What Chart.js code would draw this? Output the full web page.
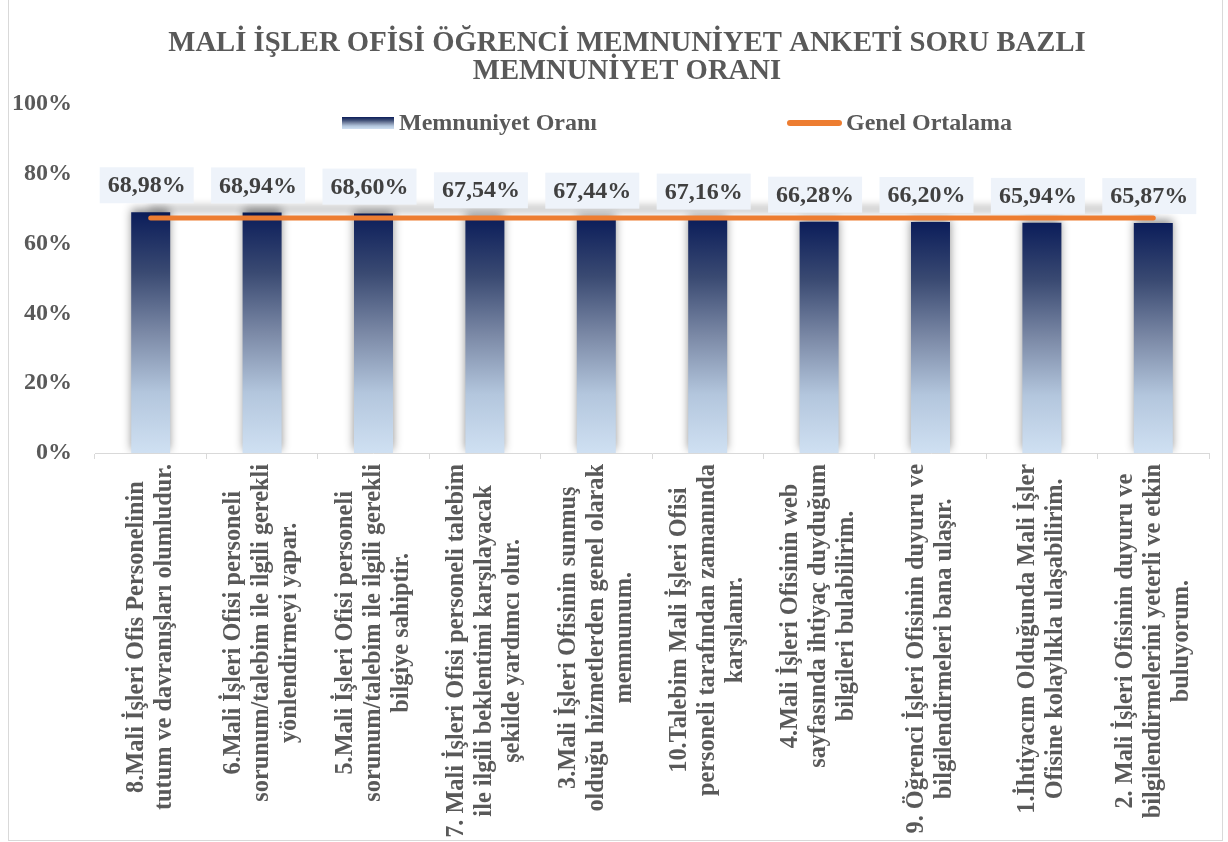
<!DOCTYPE html>
<html>
<head>
<meta charset="utf-8">
<script src="https://cdn.jsdelivr.net/npm/chart.js@4.4.1/dist/chart.umd.min.js"></script>
<style>
  html, body { margin: 0; padding: 0; background: #ffffff; overflow: hidden; }
  #wrap { position: absolute; left: 8px; top: -1px; width: 1213px; height: 840px; border: 1px solid #d9d9d9; background: #fff; }
  canvas { display: block; }
</style>
</head>
<body>
<div id="wrap"><canvas id="c" width="1213" height="840"></canvas></div>
<script>
// ---- DATA ----
const categories = [
  ["8.Mali İşleri Ofis Personelinin", "tutum ve davranışları olumludur."],
  ["6.Mali İşleri Ofisi personeli", "sorunum/talebim ile ilgili gerekli", "yönlendirmeyi yapar."],
  ["5.Mali İşleri Ofisi personeli", "sorunum/talebim ile ilgili gerekli", "bilgiye sahiptir."],
  ["7. Mali İşleri Ofisi personeli talebim", "ile ilgili beklentimi karşılayacak", "şekilde yardımcı olur."],
  ["3.Mali İşleri Ofisinin sunmuş", "olduğu hizmetlerden genel olarak", "memnunum."],
  ["10.Talebim Mali İşleri Ofisi", "personeli tarafından zamanında", "karşılanır."],
  ["4.Mali İşleri Ofisinin web", "sayfasında ihtiyaç duyduğum", "bilgileri bulabilirim."],
  ["9. Öğrenci İşleri Ofisinin duyuru ve", "bilgilendirmeleri bana ulaşır."],
  ["1.İhtiyacım Olduğunda Mali İşler", "Ofisine kolaylıkla ulaşabilirim."],
  ["2. Mali İşleri Ofisinin duyuru ve", "bilgilendirmelerini yeterli ve etkin", "buluyorum."]
];
const memnuniyetOrani = [68.98, 68.94, 68.60, 67.54, 67.44, 67.16, 66.28, 66.20, 65.94, 65.87];
const genelOrtalama = [67.3, 67.3, 67.3, 67.3, 67.3, 67.3, 67.3, 67.3, 67.3, 67.3];
const yTicks = [0, 20, 40, 60, 80, 100];
const titleLines = ["MALİ İŞLER OFİSİ ÖĞRENCİ MEMNUNİYET ANKETİ SORU BAZLI", "MEMNUNİYET ORANI"];
const seriesNames = ["Memnuniyet Oranı", "Genel Ortalama"];

const SERIF = "'Liberation Serif', 'Times New Roman', serif";
const ORANGE = '#ED7D31';

function barGradient(ctx, yTop, yBot) {
  const g = ctx.createLinearGradient(0, yTop, 0, yBot);
  g.addColorStop(0, '#0b1d5a');
  g.addColorStop(0.25, '#3a4a72');
  g.addColorStop(0.5, '#7b89a6');
  g.addColorStop(0.75, '#b3c6dd');
  g.addColorStop(1, '#cfe0f2');
  return g;
}

const shadowPlugin = {
  id: 'shadows',
  beforeDatasetDraw(chart, args) {
    const ctx = chart.ctx;
    ctx.save();
    if (args.index === 0) {
      ctx.shadowColor = 'rgba(0,0,0,0.45)';
      ctx.shadowBlur = 9;
      ctx.shadowOffsetY = -3;
    } else {
      ctx.shadowColor = 'rgba(0,0,0,0.35)';
      ctx.shadowBlur = 9;
      ctx.shadowOffsetY = -9;
    }
  },
  afterDatasetDraw(chart) { chart.ctx.restore(); }
};

const labelsPlugin = {
  id: 'customLabels',
  afterDraw(chart) {
    const ctx = chart.ctx;
    const xs = chart.scales.x;
    const ca = chart.chartArea;

    // title
    ctx.save();
    ctx.font = 'bold 28.7px ' + SERIF;
    ctx.fillStyle = '#595959';
    ctx.textAlign = 'center';
    ctx.textBaseline = 'middle';
    const tcx = (ca.left + ca.right) / 2 - 25;
    titleLines.forEach((t, i) => ctx.fillText(t, tcx, ca.top - 60 + i * 28));
    ctx.restore();

    // data labels
    const meta = chart.getDatasetMeta(0);
    ctx.save();
    ctx.font = 'bold 24px ' + SERIF;
    ctx.textAlign = 'center';
    ctx.textBaseline = 'middle';
    meta.data.forEach((el, i) => {
      const txt = memnuniyetOrani[i].toFixed(2).replace('.', ',') + '%';
      const w = ctx.measureText(txt).width + 16;
      const h = 36;
      const cx = el.x - 4;
      const bottom = el.y - 9;
      ctx.fillStyle = '#eef3fa';
      ctx.fillRect(cx - w / 2, bottom - h, w, h);
      ctx.fillStyle = '#404040';
      ctx.fillText(txt, cx, bottom - h / 2 + 1);
    });
    ctx.restore();

    // x category labels (rotated, lines centered)
    ctx.save();
    ctx.font = 'bold 24.3px ' + SERIF;
    ctx.fillStyle = '#595959';
    ctx.textAlign = 'center';
    ctx.textBaseline = 'middle';
    const lineH = 28;
    chart.data.labels.forEach((lines, i) => {
      const x = xs.getPixelForTick(i);
      const maxW = Math.max(...lines.map(l => ctx.measureText(l).width));
      const yc = xs.top + 11 + maxW / 2;
      ctx.save();
      ctx.translate(x, yc);
      ctx.rotate(-Math.PI / 2);
      lines.forEach((l, j) => {
        ctx.fillText(l, 0, (j - (lines.length - 1) / 2) * lineH);
      });
      ctx.restore();
    });
    ctx.restore();

    // legend
    ctx.save();
    const ly = ca.top + 19;
    ctx.font = 'bold 24px ' + SERIF;
    ctx.textBaseline = 'middle';
    ctx.textAlign = 'left';
    ctx.fillStyle = barGradient(ctx, ly - 6, ly + 6);
    ctx.fillRect(333, ly - 6, 52, 12);
    ctx.fillStyle = '#595959';
    ctx.fillText(seriesNames[0], 390, ly + 1);
    ctx.strokeStyle = ORANGE;
    ctx.lineWidth = 6;
    ctx.lineCap = 'round';
    ctx.beginPath();
    ctx.moveTo(781, ly);
    ctx.lineTo(830, ly);
    ctx.stroke();
    ctx.fillText(seriesNames[1], 837, ly + 1);
    ctx.restore();
  }
};

new Chart(document.getElementById('c'), {
  data: {
    labels: categories,
    datasets: [
      {
        type: 'bar',
        label: seriesNames[0],
        data: memnuniyetOrani,
        order: 1,
        categoryPercentage: 1,
        barPercentage: 0.35,
        backgroundColor: (c) => {
          const chart = c.chart;
          const ca = chart.chartArea;
          if (!ca || c.raw === undefined) return '#1f3864';
          const yTop = chart.scales.y.getPixelForValue(c.raw);
          return barGradient(chart.ctx, yTop, ca.bottom);
        }
      },
      {
        type: 'line',
        label: seriesNames[1],
        data: genelOrtalama,
        order: 0,
        borderColor: ORANGE,
        borderWidth: 5,
        borderCapStyle: 'round',
        pointRadius: 0,
        fill: false
      }
    ]
  },
  options: {
    responsive: false,
    animation: false,
    events: [],
    layout: { padding: { left: 0, right: 13, top: 104, bottom: 0 } },
    plugins: {
      legend: { display: false },
      tooltip: { enabled: false },
      title: { display: false }
    },
    scales: {
      x: {
        offset: true,
        grid: { display: true, drawOnChartArea: false, drawTicks: true, tickLength: 6, color: '#d9d9d9', offset: true },
        border: { display: true, color: '#d9d9d9', width: 1 },
        ticks: { display: false },
        afterFit: (s) => { s.height = 387; }
      },
      y: {
        min: 0,
        max: 100,
        afterBuildTicks: (s) => { s.ticks = yTicks.map(v => ({ value: v })); },
        grid: { display: false, drawTicks: false },
        border: { display: false },
        ticks: {
          padding: 23,
          color: '#595959',
          font: { family: SERIF, size: 24, weight: 'bold' },
          callback: (v) => v + '%'
        },
        afterFit: (s) => { s.width = 86; }
      }
    }
  },
  plugins: [shadowPlugin, labelsPlugin]
});
</script>
</body>
</html>
